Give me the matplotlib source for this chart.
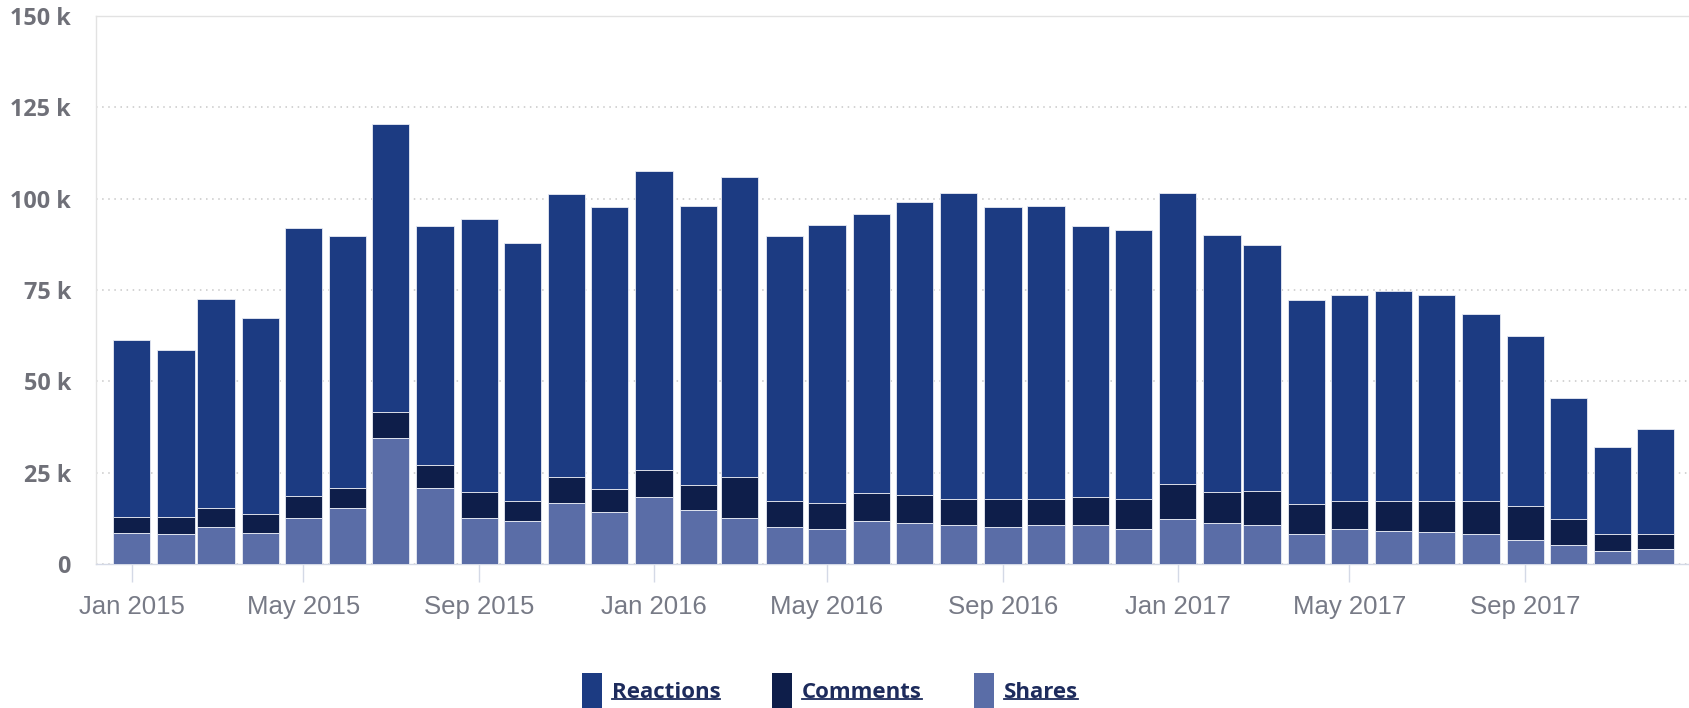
import matplotlib
matplotlib.use("Agg")
import matplotlib.pyplot as plt
import matplotlib.dates as mdates
from matplotlib.lines import Line2D
from matplotlib.ticker import FixedLocator, FuncFormatter
import pandas as pd
import datetime as dt

# Monthly engagement, in thousands
months = pd.date_range("2015-01-01", periods=36, freq="MS")
shares = [8.6, 8.1, 10.0, 8.6, 12.7, 15.2, 34.6, 20.9, 12.7, 11.8, 16.8, 14.3,
          18.3, 14.8, 12.7, 10.1, 9.6, 11.7, 11.2, 10.6, 10.1, 10.6, 10.6, 9.6,
          12.2, 11.2, 10.6, 8.1, 9.6, 9.1, 8.7, 8.1, 6.6, 5.1, 3.6, 4.1]
comments = [4.3, 4.7, 5.4, 5.2, 5.8, 5.7, 6.9, 6.2, 7.1, 5.5, 7.1, 6.1,
            7.3, 6.7, 11.0, 7.1, 7.2, 7.7, 7.6, 7.3, 7.8, 7.3, 7.8, 8.3,
            9.8, 8.4, 9.3, 8.3, 7.7, 8.2, 8.6, 9.2, 9.2, 7.1, 4.7, 4.2]
reactions = [48.4, 45.9, 57.1, 53.6, 73.5, 69.0, 79.0, 65.3, 74.7, 70.6, 77.3, 77.2,
             82.1, 76.5, 82.1, 72.7, 76.1, 76.5, 80.2, 83.7, 79.7, 80.0, 74.1, 73.6,
             79.6, 70.5, 67.4, 55.8, 56.4, 57.3, 56.4, 51.2, 46.5, 33.3, 23.6, 28.6]
y_ticks = [0, 25, 50, 75, 100, 125, 150]

COL_REACT = "#1c3b82"
COL_COMM = "#0e1e4a"
COL_SHARE = "#5a6da7"
GRID = "#c8c8c8"
LABEL_GREY = "#777a86"

W, H = 1690, 708
fig = plt.figure(figsize=(W / 100, H / 100), dpi=100)
ax = fig.add_axes([96 / W, 144 / H, 1 - 96 / W, (564 - 16) / H])

x = mdates.date2num(months.to_pydatetime())
bottom2 = [s + c for s, c in zip(shares, comments)]
bar_kw = dict(width=26, edgecolor="#e9ecf4", linewidth=0.6, zorder=3)
b_react = ax.bar(x, reactions, bottom=bottom2, color=COL_REACT, label="Reactions", **bar_kw)
b_comm = ax.bar(x, comments, bottom=shares, color=COL_COMM, label="Comments", **bar_kw)
b_share = ax.bar(x, shares, color=COL_SHARE, label="Shares", **bar_kw)

x_left = mdates.date2num(dt.datetime(2015, 1, 1)) - 24.9
ax.set_xlim(x_left, x_left + 1114)
ax.set_ylim(0, 150)

# y axis: dotted grid, "k" labels
ax.yaxis.set_major_locator(FixedLocator(y_ticks))
ax.yaxis.set_major_formatter(FuncFormatter(lambda v, p: "0" if v == 0 else f"{int(v)} k"))
ax.grid(axis="y", color=GRID, linestyle=(0, (1, 3)), linewidth=1.1, zorder=0)
ax.tick_params(axis="y", length=0, pad=18, labelsize=16.8, labelcolor="#6f7078")
for t in ax.get_yticklabels():
    t.set_fontfamily("Open Sans")
    t.set_fontweight("bold")

# x axis: month ticks
ax.xaxis.set_major_locator(mdates.MonthLocator(bymonth=[1, 5, 9]))
ax.xaxis.set_major_formatter(mdates.DateFormatter("%b %Y"))
ax.tick_params(axis="x", length=13, width=1, color="#d4d9e6", pad=9.5,
               labelsize=18.5, labelcolor=LABEL_GREY)
for t in ax.get_xticklabels():
    t.set_fontfamily("Liberation Sans")

ax.spines["right"].set_visible(False)
ax.spines["top"].set_color("#e2e2e2")
ax.spines["left"].set_color("#e2e2e2")
ax.spines["bottom"].set_color("#d4d9e6")
for s in ax.spines.values():
    s.set_linewidth(1)

# legend at the bottom with tall swatches and underlined labels
leg = fig.legend(handles=[b_react, b_comm, b_share], loc="center",
                 bbox_to_anchor=(830 / W, 17 / H), ncol=3, frameon=False,
                 prop={"family": "Open Sans", "weight": "bold", "size": 16},
                 handlelength=0.9, handleheight=2.1, handletextpad=0.44,
                 columnspacing=2.35, borderaxespad=0, borderpad=0)
for t in leg.get_texts():
    t.set_color("#1d2b5c")
for h in leg.legend_handles:
    h.set_edgecolor("none")

fig.canvas.draw()
renderer = fig.canvas.get_renderer()
for t in leg.get_texts():
    bb = t.get_window_extent(renderer)
    y = bb.y0 + 4
    fig.add_artist(Line2D([bb.x0 / W, bb.x1 / W], [y / H, y / H],
                          transform=fig.transFigure, color="#1d2b5c", linewidth=1.3))

fig.savefig("out.png", dpi=100)
